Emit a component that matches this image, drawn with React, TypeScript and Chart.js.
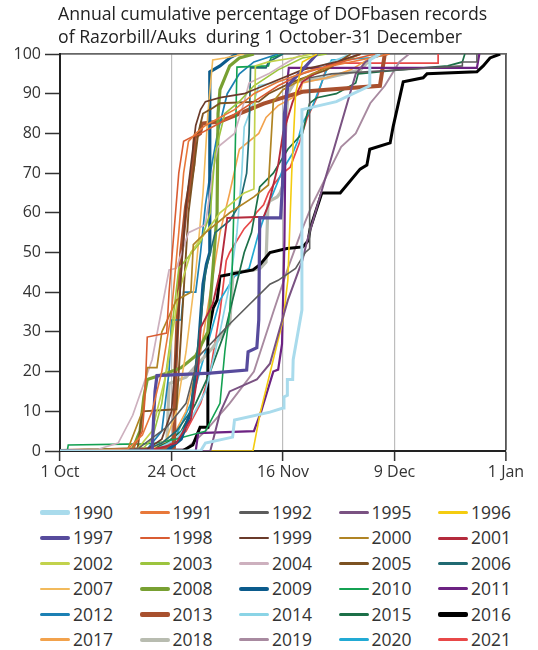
import React, { useEffect, useRef } from 'react';
import { Chart, registerables } from 'chart.js';
Chart.register(...registerables);

type P = [number, number][];

// x = days after 1 October, y = cumulative percentage
const s1990: P = [[0,0],[29,0],[30,2],[35.6,3.5],[36,7.8],[43.3,9.8],[46,10.8],[46.2,13.6],[46.9,14],[46.9,18],[48,18],[48.1,23],[49.9,35.5],[49.9,86],[57,88],[63.9,92],[63.9,98.5],[66,100]];
const s1991: P = [[0,0],[14,0.5],[17,4],[19,10],[21,20],[23,35],[24.5,55],[25.5,70],[26.5,78],[28,80],[30,82],[33,84],[36,86],[40,90],[45,93],[52,96],[60,98],[68,100]];
const s1992: P = [[0,0],[16,0.5],[22,6],[26,12],[28.5,23.7],[35,32],[43.3,42],[45,43],[48.6,46],[50.6,50],[51.5,51],[51.5,94],[56,95],[70,96],[83,97],[83,98],[86,98],[86,100]];
const s1995: P = [[0,0],[31,0],[33,9.6],[35,15],[40.6,18],[43.3,22],[47,38],[50,48],[51,53],[61,95],[63,98],[66,100]];
const s1996: P = [[0,0],[39.8,0],[41.3,9.6],[46,33],[47,43],[47.8,70],[48.6,90],[50,98],[53,100]];
const s1997: P = [[0,0],[19,0],[19.3,8],[19.6,15],[20,19],[31,19.6],[38.5,20.4],[38.8,25],[40.6,26],[41,33],[41.2,58.7],[45.5,58.7],[45.9,67],[46.3,85],[47,92],[50,96],[53,100]];
const s1998: P = [[0,0],[15,0.5],[17,5],[17.5,13],[18,28.7],[22,29.7],[22.5,40],[23.5,55],[24.5,70],[25.5,78],[27,79],[29,80],[32,82],[35,84],[40,88],[45,92],[50,95],[58,98],[65,100]];
const s1999: P = [[0,0],[18,0.5],[21,3],[23,10],[24,25],[25,45],[26,62],[27,72],[28,82],[29,86],[30,88],[33,89],[38,90],[44,93],[50,96],[57,98],[62,100]];
const s2000: P = [[0,0],[14,0.5],[17,10],[18,21],[20,21],[21,30],[24,38],[27,40],[27.5,52],[30,55],[35,60],[40,64],[43,67],[44,88],[46,91],[52,95],[58,98],[62,100]];
const s2001: P = [[0,0],[20,0.5],[24,2],[27,8],[28.5,20],[29,31],[31.5,37],[33,45],[34.5,58.7],[42,59],[43,62],[44,67],[45,72],[46,80],[48,88],[50,93],[55,97],[62,100]];
const s2002: P = [[0,0],[16,0.5],[19,5],[22,20],[24.5,40],[27,50],[30,55],[33,60],[36,63],[38,65],[40,66],[40.3,97],[43,98],[48,99],[52,100]];
const s2003: P = [[0,0],[17,0.5],[19,3],[21,12],[23,30],[24.5,46],[29,52.6],[31,60],[32,75],[34,85],[37,88],[40,92],[45,96],[50,99],[55,100]];
const s2004: P = [[0,0],[8,0.5],[12,2],[15,9],[19,23],[22.5,45.6],[24,46],[26.5,55],[30,57],[31.5,70],[32.5,76.5],[36,80],[38,88],[39,92.7],[43,95],[47,98],[50,100]];
const s2005: P = [[0,0],[16,0.5],[17,10],[24,10.5],[24.5,20],[25.5,40],[26.5,60],[27.5,70],[28.5,80],[29.5,85],[31.5,86.4],[33,87.6],[41,88],[43,90],[48,93],[55,96],[60,100]];
const s2006: P = [[0,0],[18,0.5],[21,2],[24,5],[27,10],[28,22],[29,32],[30,45],[32,55],[35,58],[37,62],[38.5,70],[39,80],[39.3,96.5],[42.5,96.5],[43,98],[46,100]];
const s2007: P = [[0,0],[19,0.5],[22,3],[24,10],[26,25],[28,45],[29.5,65],[30.5,85],[31.5,98.5],[34,99],[38,100]];
const s2008: P = [[0,0],[15,0.5],[16.5,5],[17.3,13.6],[18,18],[22,19.6],[25,21],[28,24],[30.5,30],[31.5,45],[32.4,60],[32.6,85],[33,91],[35,97],[37,99],[40,100]];
const s2009: P = [[0,0],[22,0],[25,3],[27,10],[28.5,25],[29.5,42],[30.2,47],[30.9,50],[30.9,95.5],[33,97],[35,99],[36.5,100]];
const s2010: P = [[0,0],[1.5,0],[1.7,1.5],[17,1.8],[20,2],[24,3],[30,5],[33,12],[34,25],[35,35],[35.5,45],[36,67],[36.5,96.7],[43,97],[43.5,99],[46,100]];
const s2011: P = [[0,0],[28,0],[28.5,4.5],[40,5],[41.5,10],[43,16],[44,20],[45,20.5],[45.8,27],[46.3,53],[46.6,90],[47.2,96.5],[86,96.5],[86.5,100]];
const s2012: P = [[0,0],[18,0.5],[21,5],[22.5,20],[23,33],[25,33],[25.5,40],[28,40],[29,50],[30,62],[31,70],[32.5,80],[34.5,90],[37,95],[40,98],[45,100]];
const s2013: P = [[0,0],[20,0.5],[23.5,1],[23.8,20],[24.3,35],[25,50],[26,61.5],[26.8,67],[27.5,72],[27.8,79],[28.9,80],[29.3,82.5],[33,83],[36,84.5],[39,86],[42,87.5],[46,89],[50,90.5],[55,91],[66,92],[67,100]];
const s2014: P = [[0,0],[20,0.5],[24,3],[27,8],[30,15],[33,30],[35,42],[36.5,55],[37.5,70],[38,81.6],[40,88],[41,92],[45,93],[50,95],[56,98],[60,100]];
const s2015: P = [[0,0],[19,0.5],[22,2],[25,5],[28,12],[31,20],[34,30],[36,40],[38,50],[39.5,55],[41.2,66.5],[44,70],[47,76],[50,80],[51.5,87.6],[53,89],[57,90],[61,92.7],[61.5,95],[70,96],[80,97],[83,98],[83.5,100]];
const s2016: P = [[0,0],[25.2,0],[27.4,1.5],[28.9,6],[30.5,6],[30.5,29],[31.6,36],[32.4,38],[33,44],[39.8,45.6],[41.3,47],[43.3,50],[46.8,51],[50.1,51.4],[51.2,53],[51.6,56],[54,65],[57.8,65],[61.9,71],[63.3,72],[63.9,76],[68.1,77.6],[68.7,81.6],[70.8,93],[74.9,94],[75.7,95],[86,95.5],[87.3,97],[88.7,99],[90.8,100]];
const s2017: P = [[0,0],[19,0.5],[23,3],[26,10],[29,25],[31,40],[33,55],[35,65],[37,76],[41,80],[42.5,84],[45,87],[49.5,90],[50,92.7],[55,94],[60,96],[64,99],[68,100]];
const s2018: P = [[0,0],[22,0.5],[22.5,17],[26,18.6],[28.5,22],[31.5,26],[35,32],[35.7,45],[40,45.6],[41.3,46],[42.5,47.6],[42.9,62],[43.3,63],[44.8,64],[45.4,65],[46,67],[46.5,80],[47,90],[48.5,93],[55,94],[62,96],[65,100]];
const s2019: P = [[0,0],[26,0.5],[30,5],[35,12],[40,20],[44,35],[47,46],[50,56],[52,62],[58,76.6],[61,80],[64,87.6],[67,92],[70,98],[72,100]];
const s2020: P = [[0,0],[20,0.5],[24,4],[27,12],[30,25],[33,38],[36,44],[39,46],[41,55],[43,62],[45,68],[46,71],[48,75],[49,78],[50,82.6],[52,86.6],[55,96],[56,98.5],[64,99],[68,100]];
const s2021: P = [[0,0],[20,0.5],[23,2],[26,5],[29,12],[31,20],[33,35],[34.3,48],[35,50],[36,52],[37,54],[38,56],[39.5,58],[40.5,60],[42,62],[43,65],[44,67],[46,70],[47.5,71.5],[49.5,78],[51,84],[53,89],[55,96.7],[56,97.7],[78,97.7],[78,100]];

const years = ['1990','1991','1992','1995','1996','1997','1998','1999','2000','2001','2002','2003','2004','2005','2006','2007','2008','2009','2010','2011','2012','2013','2014','2015','2016','2017','2018','2019','2020','2021'];
const seriesData: P[] = [s1990,s1991,s1992,s1995,s1996,s1997,s1998,s1999,s2000,s2001,s2002,s2003,s2004,s2005,s2006,s2007,s2008,s2009,s2010,s2011,s2012,s2013,s2014,s2015,s2016,s2017,s2018,s2019,s2020,s2021];
const colors = ['#a9dbec','#e8783a','#5c5c5c','#7a5282','#f4cc10','#574b9c','#d95c32','#6a3a2a','#b08424','#b42a3c','#c2d24c','#9cc43e','#cdb0be','#7c5222','#206a72','#f2ba5c','#78a032','#0b5b8c','#14a152','#6c2282','#1c80b4','#a8502e','#8ad4e6','#1c7048','#000000','#f2a24c','#b8bcb0','#a88aa0','#22aad4','#e84848'];
const lineWidths = [3,1.6,1.6,2,1.6,3.2,1.6,1.7,1.7,1.9,1.7,1.6,1.7,1.9,1.7,1.6,3.2,3.2,1.6,2.2,1.7,4,1.7,1.7,3,1.6,3.2,1.9,1.7,1.7];
const legendWidths = [4.5,2.6,2.6,3,2.6,4.5,2.6,2.6,2.6,3,2.6,2.6,2.6,3,2.6,2.6,4.5,4.5,2.6,3,2.6,4.5,2.6,2.6,4.5,2.6,4,3,2.6,2.6];

const xTickValues = [0, 23, 46, 69, 92];
const xTickLabels = ['1 Oct', '24 Oct', '16 Nov', '9 Dec', '1 Jan'];
const titleLines = ['Annual cumulative percentage of DOFbasen records', 'of Razorbill/Auks  during 1 October-31 December'];

const FONT = '"Open Sans", "Noto Sans", sans-serif';

const titlePlugin = {
  id: 'leftTitle',
  afterDraw(chart: any) {
    const { ctx, chartArea } = chart;
    ctx.save();
    ctx.font = `17.7px ${FONT}`;
    ctx.fillStyle = '#222';
    ctx.textBaseline = 'alphabetic';
    ctx.textAlign = 'left';
    ctx.fillText(titleLines[0], chartArea.left - 2, 20);
    ctx.fillText(titleLines[1], chartArea.left - 2, 43);
    ctx.restore();
  },
};

export default function App() {
  const ref = useRef<HTMLCanvasElement | null>(null);
  useEffect(() => {
    document.body.style.margin = '0';
    if (!ref.current) return;
    const chart = new Chart(ref.current, {
      type: 'line',
      data: {
        datasets: years.map((y, i) => ({
          label: y,
          data: seriesData[i].map(([x, v]) => ({ x, y: v })),
          borderColor: colors[i],
          backgroundColor: colors[i],
          borderWidth: lineWidths[i],
          pointRadius: 0,
          tension: 0,
          fill: false,
        })),
      },
      options: {
        animation: false,
        responsive: false,
        devicePixelRatio: 1,
        layout: { padding: { left: 0, right: 32, top: 54, bottom: 4 } },
        plugins: { legend: { display: false }, tooltip: { enabled: false }, title: { display: false } },
        scales: {
          x: {
            type: 'linear',
            min: 0,
            max: 92,
            afterFit: (s: any) => { s.height = 35; },
            ticks: {
              stepSize: 23,
              autoSkip: false,
              maxRotation: 0,
              padding: 2,
              color: '#333',
              font: { family: FONT, size: 16 },
              callback: (v: any) => { const k = xTickValues.indexOf(Number(v)); return k >= 0 ? xTickLabels[k] : ''; },
            },
            grid: {
              color: (c: any) => (c.tick && c.tick.value === 92 ? '#555' : c.tick && c.tick.value === 0 ? 'rgba(0,0,0,0)' : '#bdbdbd'),
              lineWidth: (c: any) => (c.tick && c.tick.value === 92 ? 1.8 : 1.2),
              tickLength: 10,
              tickColor: '#333',
              tickWidth: 1.5,
            },
            border: { display: true, color: '#222', width: 2 },
          },
          xTop: {
            type: 'linear',
            position: 'top',
            min: 0,
            max: 92,
            afterFit: (s: any) => { s.height = 0; },
            ticks: { display: false },
            grid: { display: false },
            border: { display: true, color: '#666', width: 1.8 },
          },
          y: {
            min: 0,
            max: 100,
            afterFit: (s: any) => { s.width = 60; },
            ticks: { stepSize: 10, padding: 4, color: '#333', font: { family: FONT, size: 16 } },
            grid: { drawOnChartArea: false, tickLength: 15, tickColor: '#333', tickWidth: 1.5 },
            border: { display: true, color: '#222', width: 2 },
          },
        },
      },
      plugins: [titlePlugin],
    } as any);
    return () => chart.destroy();
  }, []);

  return (
    <div style={{ width: 538, fontFamily: FONT }}>
      <canvas ref={ref} width={538} height={490} style={{ display: 'block', width: 538, height: 490 }} />
      <div style={{ display: 'grid', gridTemplateColumns: 'repeat(5, 99.5px)', paddingLeft: 40, paddingTop: 10 }}>
        {years.map((y, i) => (
          <div key={y} style={{ display: 'flex', alignItems: 'center', height: 25.4 }}>
            <span style={{ display: 'inline-block', width: 30, height: legendWidths[i], background: colors[i], borderRadius: 2 }} />
            <span style={{ marginLeft: 3, fontSize: 17.5, color: '#333', lineHeight: 1 }}>{y}</span>
          </div>
        ))}
      </div>
    </div>
  );
}
